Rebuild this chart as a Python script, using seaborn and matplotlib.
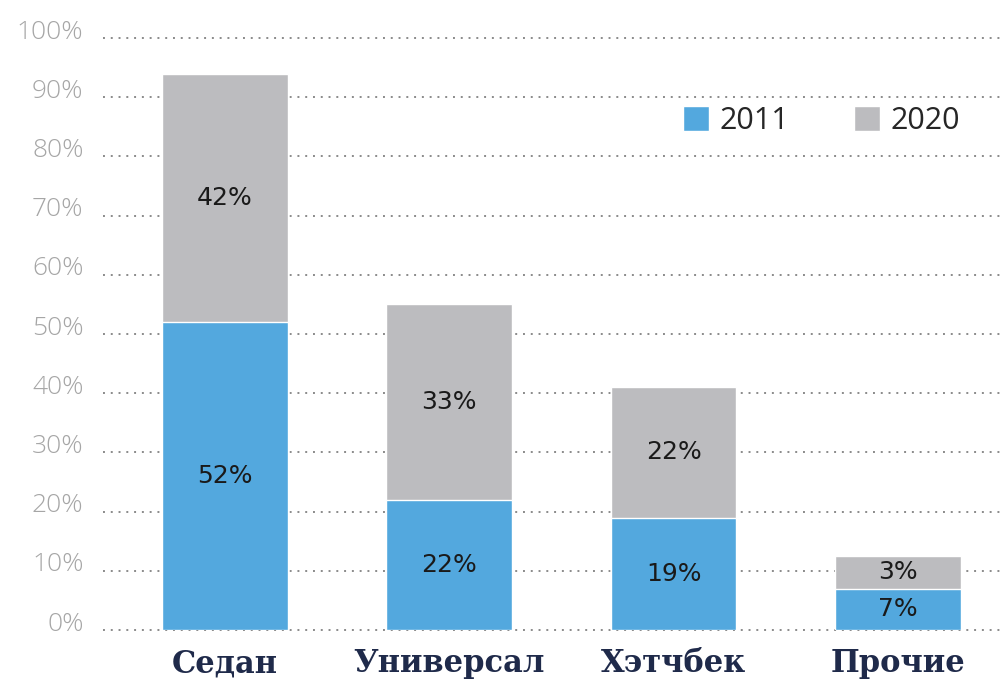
import numpy as np
import matplotlib
matplotlib.use("Agg")
import matplotlib.pyplot as plt
import matplotlib.transforms as mtransforms
from matplotlib.patches import Patch
import seaborn as sns

# data
categories = ["Седан", "Универсал", "Хэтчбек", "Прочие"]
share_2011 = [52, 22, 19, 7]
share_2020 = [42, 33, 22, 3]
# drawn height of the 2020 part (the last bar is drawn taller than its label)
height_2020 = [42, 33, 22, 5.5]
y_ticks = [0, 10, 20, 30, 40, 50, 60, 70, 80, 90, 100]

blue = "#53a8de"
grey = "#bcbcbf"

sns.set_theme(style="white")
plt.rcParams["font.family"] = ["Open Sans", "DejaVu Sans"]

fig = plt.figure(figsize=(10.07, 6.84), dpi=100)
ax = fig.add_axes([0.1023, 0.0789, 0.8957, 0.8655])

total = np.array(share_2011) + np.array(height_2020)
sns.barplot(x=categories, y=total, color=grey, saturation=1, width=0.56, ax=ax, zorder=2)
sns.barplot(x=categories, y=share_2011, color=blue, saturation=1, width=0.56, ax=ax, zorder=3)

# value labels
for i in range(len(categories)):
    ax.text(i, share_2011[i] / 2, f"{share_2011[i]}%", ha="center", va="center",
            fontsize=18, color="#1a1a1a", zorder=5, family="DejaVu Sans")
    ax.text(i, share_2011[i] + height_2020[i] / 2, f"{share_2020[i]}%", ha="center",
            va="center", fontsize=18, color="#1a1a1a", zorder=5, family="DejaVu Sans")

ax.set_xlim(-0.543, 3.477)
ax.set_ylim(0, 100)
ax.set_yticks(y_ticks)
ax.set_yticklabels([f"{t}%" for t in y_ticks])
for t in y_ticks:
    ax.axhline(t, color="#8a8a8a", lw=1.4, ls=(0, (1, 3)), zorder=1, clip_on=False)

ax.tick_params(axis="y", length=0, pad=14, labelsize=19, labelcolor="#a6a6a6")
ax.tick_params(axis="x", length=0, pad=13)
for lab in ax.get_yticklabels():
    lab.set_fontweight("light")
    lab.set_transform(lab.get_transform() + mtransforms.ScaledTranslation(0, 9 / 100, fig.dpi_scale_trans))
for lab in ax.get_xticklabels():
    lab.set_fontfamily(["DejaVu Serif"])
    lab.set_fontweight("bold")
    lab.set_fontsize(22)
    lab.set_color("#1f2a4a")

ax.set_xlabel("")
ax.set_ylabel("")
sns.despine(ax=ax, left=True, bottom=True)

handles = [Patch(facecolor=blue, label="2011"), Patch(facecolor=grey, label="2020")]
fig.legend(handles=handles, loc="center left", bbox_to_anchor=(683 / 1007, 1 - 121 / 684),
           ncol=2, frameon=False, fontsize=22, handlelength=0.85, handleheight=0.85,
           handletextpad=0.36, columnspacing=2.1, borderpad=0, borderaxespad=0)

fig.savefig("out.png", dpi=100)
